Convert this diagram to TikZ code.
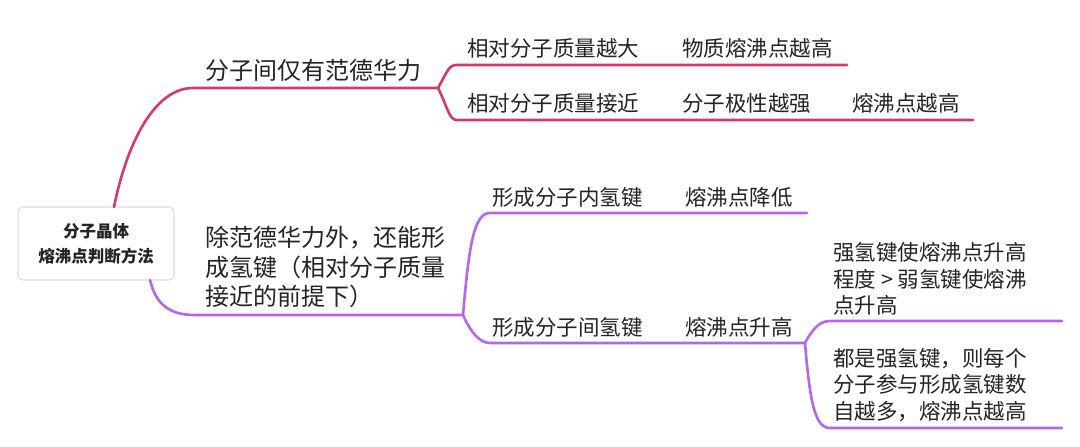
\documentclass[tikz,border=0pt]{standalone}
\usepackage{fontspec}
\setmainfont{Noto Sans CJK SC}
\newcommand{\brwidth}{2.6pt}
\definecolor{vdwred}{RGB}{214,56,106}
\definecolor{hbpurple}{RGB}{182,102,234}
\definecolor{inkgray}{RGB}{36,36,36}
\definecolor{boxgray}{RGB}{222,222,222}

\begin{document}
\begin{tikzpicture}[x=1pt,y=-1pt,
    leaf/.style={anchor=west,inner sep=0pt,text=inkgray,align=left,
      font=\fontsize{21.5}{26.5}\selectfont},
    mainleaf/.style={leaf,font=\fontsize{24}{29.5}\selectfont},
    rootbox/.style={draw=boxgray,line width=1.2pt,fill=white,rounded corners=5pt,
      minimum width=156pt,minimum height=73pt,align=center,text=inkgray,
      font=\bfseries\fontsize{16.5}{25}\selectfont},
    redbr/.style={draw=vdwred,line width=\brwidth,line cap=round},
    purplebr/.style={draw=hbpurple,line width=\brwidth,line cap=round}]
  \useasboundingbox (0,0) rectangle (1080,447);

  \node[rootbox] (root) at (96,243.5) {分子晶体\\熔沸点判断方法};
  \node[mainleaf] (vdw) at (205,70) {分子间仅有范德华力};
  \node[mainleaf] (hb) at (205,267) {除范德华力外，还能形\\成氢键（相对分子质量\\接近的前提下）};

  \foreach \name/\x/\y/\txt in {mass1/467/48/相对分子质量越大, res1/682/48/物质熔沸点越高,
      mass2/467/103/相对分子质量接近, polar/682/103/分子极性越强, res2/852/103/熔沸点越高,
      intra/492/197/形成分子内氢键, low/685/197/熔沸点降低,
      inter/492/327/形成分子间氢键, high/685/327/熔沸点升高,
      strong/833/279/{强氢键使熔沸点升高\\程度 > 弱氢键使熔沸\\点升高},
      count/833/385/{都是强氢键，则每个\\分子参与形成氢键数\\自越多，熔沸点越高}}
    \node[leaf] (\name) at (\x,\y) {\txt};

  % red branch
  \coordinate (redstart) at (114,207);
  \coordinate (redmain) at (193,88);
  \coordinate (redfork) at (438,88);
  \coordinate (redup) at (457,65);
  \coordinate (redupend) at (847,65);
  \coordinate (redlow) at (457,120);
  \coordinate (redlowend) at (973,120);
  \draw[redbr] (redstart) .. controls +(12,-60) and +(-40,0) .. (redmain) -- (redfork);
  \draw[redbr] (redfork) .. controls +(10,-18) and +(-8,0) .. (redup) -- (redupend);
  \draw[redbr] (redfork) .. controls +(10,20) and +(-8,0) .. (redlow) -- (redlowend);

  % purple branch
  \coordinate (hbstart) at (150,280);
  \coordinate (hbmain) at (195,315);
  \coordinate (hbfork) at (463,315);
  \coordinate (intraline) at (490,213);
  \coordinate (intraend) at (807,213);
  \coordinate (interline) at (490,343);
  \coordinate (interfork) at (805,343);
  \coordinate (strongline) at (830,321);
  \coordinate (strongend) at (1062,321);
  \coordinate (countline) at (830,428);
  \coordinate (countend) at (1062,428);
  \draw[purplebr] (hbstart) .. controls +(6,25) and +(-25,0) .. (hbmain) -- (hbfork);
  \draw[purplebr] (hbfork) .. controls +(6,-70) and +(-16,0) .. (intraline) -- (intraend);
  \draw[purplebr] (hbfork) .. controls +(8,18) and +(-10,0) .. (interline) -- (interfork);
  \draw[purplebr] (interfork) .. controls +(8,-15) and +(-10,0) .. (strongline) -- (strongend);
  \draw[purplebr] (interfork) .. controls +(5,60) and +(-15,0) .. (countline) -- (countend);
\end{tikzpicture}
\end{document}
